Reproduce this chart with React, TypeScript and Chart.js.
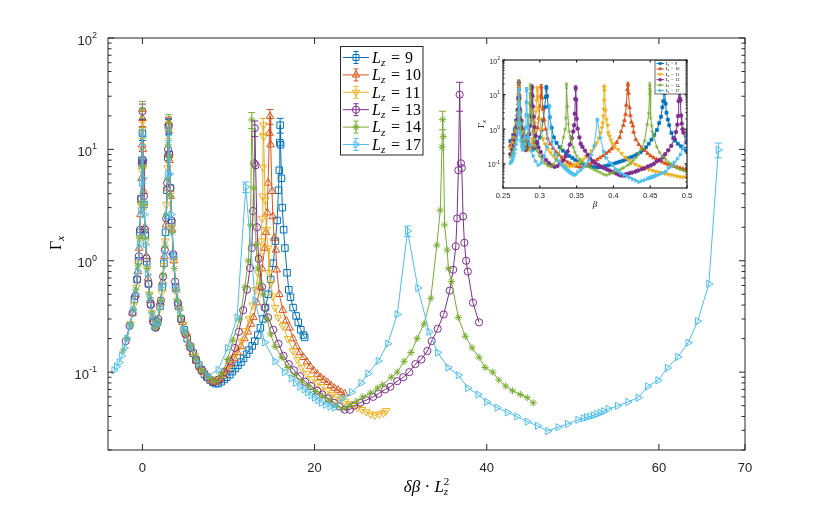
import { useEffect, useRef } from 'react';
import Chart from 'chart.js/auto';
import { drawPoint } from 'chart.js/helpers';

type Pt = [number, number, number?];

// ---- data ----
const L_VALUES = [9, 10, 11, 13, 14, 17];
const COLORS = ['#0072BD', '#D95319', '#EDB120', '#7E2F8E', '#77AC30', '#4DBEEE'];
const POINT_STYLES = ['rect', 'triangle', 'triangle', 'circle', 'star', 'triangle'];
const POINT_ROTATIONS = [0, 0, 180, 0, 0, 90];
const MAIN_RADII = [4.6, 4.4, 4.4, 3.6, 3.6, 4.2];
const INSET_RADII = [2.2, 2.3, 2.3, 1.9, 2.0, 2.3];
const BETA_C = 0.2715; // beta = BETA_C + x / L^2 (inset axis)

const X_TICKS = [0, 20, 40, 60, 70];
const Y_TICKS = [100, 10, 1, 0.1];
const Y_TICK_EXP = ['2', '1', '0', '-1'];
const INSET_X_TICKS = [0.25, 0.3, 0.35, 0.4, 0.45, 0.5];
const INSET_X_LABELS = ['0.25', '0.3', '0.35', '0.4', '0.45', '0.5'];

// [x = δβ·Lz², Γx, error]
const L9: Pt[] = [
  [-0.93, 0.45], [-0.62, 0.68], [-0.45, 1.0], [-0.3, 1.8], [-0.15, 3.6], [-0.06, 8], [0, 14, 2],
  [0.07, 7.5], [0.18, 3.2], [0.32, 1.7], [0.5, 0.98], [0.7, 0.62], [0.95, 0.41], [1.25, 0.29],
  [1.5, 0.255], [1.75, 0.28], [2.05, 0.39], [2.3, 0.58], [2.5, 0.95], [2.68, 1.8], [2.85, 4.3],
  [2.95, 8.5], [3.03, 16, 2.5], [3.12, 9], [3.25, 4.5], [3.4, 2.2], [3.6, 1.1], [3.85, 0.58],
  [4.15, 0.4], [4.5, 0.3], [4.85, 0.24], [5.2, 0.2], [5.55, 0.17], [5.9, 0.148], [6.2, 0.13],
  [6.55, 0.116], [6.85, 0.105], [7.2, 0.096], [7.5, 0.09], [7.85, 0.085], [8.2, 0.081],
  [8.5, 0.079], [8.8, 0.079], [9.15, 0.082], [9.5, 0.086], [9.8, 0.09], [10.15, 0.095],
  [10.45, 0.101], [10.8, 0.108], [11.1, 0.115], [11.45, 0.123], [11.75, 0.133], [12.1, 0.145],
  [12.4, 0.158], [12.75, 0.172], [13.05, 0.19], [13.4, 0.215], [13.7, 0.25], [14.0, 0.3],
  [14.3, 0.38], [14.6, 0.5], [14.9, 0.68], [15.2, 0.95], [15.45, 1.5], [15.65, 2.3], [15.8, 4.3],
  [15.9, 6.5], [15.96, 11.5], [16.0, 16.5, 2.5], [16.05, 11], [16.15, 5.5], [16.25, 3.0],
  [16.4, 1.9], [16.55, 1.3], [16.8, 0.78], [17.0, 0.55], [17.2, 0.47], [17.5, 0.38],
  [17.85, 0.32], [18.1, 0.28], [18.4, 0.24], [18.7, 0.215], [18.85, 0.205],
];

const L10: Pt[] = [
  [-1.15, 0.34], [-0.8, 0.5], [-0.55, 0.8], [-0.38, 1.3], [-0.22, 2.6], [-0.1, 5.5], [-0.03, 11],
  [0, 19, 3], [0.05, 10], [0.14, 4.2], [0.28, 2], [0.45, 1.1], [0.65, 0.7], [0.9, 0.44],
  [1.2, 0.3], [1.5, 0.255], [1.8, 0.29], [2.1, 0.42], [2.35, 0.65], [2.55, 1.1], [2.72, 2.1],
  [2.86, 4.5], [2.96, 9], [3.04, 17, 2.5], [3.14, 8], [3.28, 3.8], [3.45, 1.9], [3.65, 1.0],
  [3.9, 0.55], [4.25, 0.38], [4.65, 0.28], [5.05, 0.22], [5.45, 0.18], [5.85, 0.15],
  [6.25, 0.126], [6.65, 0.11], [7.05, 0.1], [7.45, 0.092], [7.85, 0.085], [8.25, 0.081],
  [8.65, 0.082], [9.05, 0.087], [9.45, 0.095], [9.85, 0.105], [10.25, 0.118], [10.65, 0.133],
  [11.05, 0.15], [11.45, 0.17], [11.85, 0.2], [12.25, 0.23], [12.6, 0.27], [12.9, 0.31],
  [13.3, 0.42], [13.7, 0.58], [13.9, 0.85], [14.2, 1.3], [14.35, 1.8], [14.5, 2.7], [14.6, 5],
  [14.75, 14], [14.82, 19.8, 3], [14.9, 11], [15.05, 4.2], [15.15, 2.5], [15.3, 1.6],
  [15.5, 1.25], [15.6, 0.83], [15.9, 0.5], [16.3, 0.36], [16.7, 0.29], [17.1, 0.25],
  [17.5, 0.2], [17.9, 0.17], [18.3, 0.15], [18.7, 0.136], [19.1, 0.124], [19.5, 0.112],
  [19.9, 0.103], [20.3, 0.096], [20.7, 0.09], [21.1, 0.085], [21.5, 0.081], [21.9, 0.076],
  [22.3, 0.072], [22.7, 0.069], [23.1, 0.066], [23.5, 0.064],
];

const L11: Pt[] = [
  [-1.39, 0.27], [-1.0, 0.4], [-0.7, 0.58], [-0.48, 0.95], [-0.32, 1.6], [-0.18, 3.2],
  [-0.08, 6.5], [0, 15, 2.5], [0.08, 7], [0.2, 3], [0.36, 1.5], [0.55, 0.85], [0.8, 0.5],
  [1.1, 0.34], [1.4, 0.26], [1.7, 0.27], [2.0, 0.37], [2.25, 0.52], [2.48, 0.9], [2.65, 1.5],
  [2.8, 3.2], [2.92, 6.8], [3.02, 15, 2.5], [3.12, 8.5], [3.26, 4], [3.44, 2], [3.66, 1.0],
  [3.95, 0.53], [4.3, 0.37], [4.75, 0.27], [5.2, 0.21], [5.65, 0.17], [6.1, 0.14],
  [6.55, 0.118], [7.0, 0.103], [7.45, 0.093], [7.9, 0.086], [8.35, 0.084], [8.8, 0.087],
  [9.25, 0.094], [9.7, 0.104], [10.15, 0.118], [10.6, 0.135], [11.05, 0.16], [11.5, 0.19],
  [11.95, 0.235], [12.4, 0.3], [12.8, 0.4], [13.15, 0.55], [13.45, 0.78], [13.65, 1.1],
  [13.8, 1.5], [13.9, 2.4], [13.97, 3.8], [14.0, 6.9], [14.04, 16.5, 2.5], [14.08, 13],
  [14.25, 3.5], [14.4, 1.9], [14.6, 1.3], [14.7, 0.78], [14.9, 0.63], [15.15, 0.48],
  [15.4, 0.38], [15.75, 0.31], [16.3, 0.26], [16.9, 0.2], [17.5, 0.155], [18.0, 0.13],
  [18.5, 0.11], [19.1, 0.097], [19.7, 0.087], [20.3, 0.08], [20.8, 0.074], [21.4, 0.068],
  [22.0, 0.063], [22.5, 0.06], [23.0, 0.057], [23.5, 0.055], [24.0, 0.052], [24.5, 0.05],
  [25.0, 0.048], [25.5, 0.046], [26.0, 0.044], [26.5, 0.042], [27.0, 0.041], [27.5, 0.042],
  [28.0, 0.043], [28.3, 0.045],
];

const L13: Pt[] = [
  [-1.94, 0.19], [-1.5, 0.26], [-1.15, 0.34], [-0.85, 0.48], [-0.6, 0.68], [-0.42, 1.1],
  [-0.28, 1.9], [-0.16, 3.6], [-0.07, 7.5], [0, 22, 3.5], [0.07, 8], [0.17, 3.8], [0.3, 1.9],
  [0.48, 1.05], [0.7, 0.62], [0.98, 0.4], [1.3, 0.28], [1.55, 0.25], [1.85, 0.3], [2.15, 0.44],
  [2.4, 0.72], [2.6, 1.25], [2.76, 2.4], [2.88, 5], [2.97, 10], [3.04, 16.5, 2.5], [3.12, 9],
  [3.24, 4.5], [3.38, 2.3], [3.56, 1.15], [3.8, 0.65], [4.1, 0.42], [4.5, 0.3], [5.0, 0.22],
  [5.6, 0.165], [6.25, 0.128], [6.9, 0.104], [7.55, 0.09], [8.2, 0.082], [8.85, 0.086],
  [9.5, 0.1], [10.15, 0.125], [10.75, 0.165], [11.2, 0.23], [11.7, 0.36], [12.15, 0.55],
  [12.5, 0.86], [12.7, 1.3], [12.85, 2.8], [12.98, 7.5], [13.05, 15.5, 2.5], [13.15, 7.2],
  [13.3, 2.0], [13.5, 1.04], [13.9, 0.58], [14.2, 0.38], [14.6, 0.31], [15.2, 0.24],
  [15.8, 0.18], [16.4, 0.14], [17.0, 0.118], [17.6, 0.104], [18.3, 0.092], [18.9, 0.082],
  [19.6, 0.075], [20.3, 0.068], [20.9, 0.063], [21.6, 0.058], [22.3, 0.053], [22.9, 0.049],
  [23.5, 0.046], [24.1, 0.046], [24.6, 0.05], [25.3, 0.053], [26.0, 0.056], [26.8, 0.06],
  [27.4, 0.064], [28.2, 0.07], [28.8, 0.074], [29.6, 0.083], [30.3, 0.09], [31.0, 0.1],
  [31.7, 0.118], [32.4, 0.13], [33.1, 0.155], [33.6, 0.19], [34.3, 0.245], [35.0, 0.33],
  [35.7, 0.54], [36.1, 0.83], [36.4, 1.35], [36.55, 2.4], [36.7, 6.5], [36.85, 31, 9],
  [37.0, 7.5], [37.1, 6.8], [37.25, 2.5], [37.4, 1.45], [37.6, 1.0], [37.8, 0.8], [38.4, 0.42],
  [39.1, 0.28],
];

const L14: Pt[] = [
  [-2.25, 0.155], [-1.8, 0.2], [-1.4, 0.27], [-1.05, 0.37], [-0.75, 0.55], [-0.5, 0.9],
  [-0.33, 1.6], [-0.18, 3.3], [-0.08, 7], [0, 23, 4], [0.08, 7], [0.2, 3.2], [0.35, 1.6],
  [0.55, 0.85], [0.8, 0.5], [1.1, 0.34], [1.45, 0.25], [1.8, 0.29], [2.15, 0.44], [2.42, 0.75],
  [2.62, 1.35], [2.78, 2.6], [2.9, 5.5], [2.98, 11], [3.05, 17.5, 3], [3.14, 8.5], [3.28, 3.8],
  [3.46, 1.8], [3.7, 0.85], [4.0, 0.45], [4.4, 0.32], [4.9, 0.23], [5.5, 0.17], [6.2, 0.13],
  [6.95, 0.103], [7.7, 0.088], [8.45, 0.083], [9.2, 0.095], [9.9, 0.13], [10.5, 0.193],
  [11.3, 0.3], [11.9, 0.58], [12.3, 1.0], [12.55, 2.1], [12.7, 18.4, 3], [12.95, 4.5],
  [13.2, 1.4], [13.4, 0.86], [13.7, 0.63], [14.0, 0.5], [14.5, 0.3], [14.9, 0.22], [15.4, 0.17],
  [16.2, 0.136], [16.9, 0.11], [17.7, 0.094], [18.5, 0.083], [19.3, 0.075], [20.1, 0.067],
  [20.9, 0.061], [21.7, 0.056], [22.5, 0.05], [23.3, 0.047], [24.1, 0.05], [24.9, 0.055],
  [25.6, 0.06], [26.5, 0.065], [27.3, 0.072], [27.9, 0.077], [28.9, 0.09], [29.6, 0.1],
  [30.4, 0.125], [31.2, 0.15], [31.9, 0.2], [32.7, 0.27], [33.5, 0.46], [34.2, 1.38],
  [34.6, 2.85], [34.8, 10.5], [34.88, 18.5, 3.5], [34.95, 13], [35.1, 2.1], [35.4, 1.25],
  [35.55, 0.85], [35.9, 0.65], [36.7, 0.31], [37.5, 0.21], [38.3, 0.165], [39.1, 0.136],
  [39.8, 0.11], [40.7, 0.1], [41.4, 0.085], [42.2, 0.075], [43.0, 0.068], [43.9, 0.063],
  [44.7, 0.059], [45.4, 0.053],
];

const L17: Pt[] = [
  [-3.3, 0.104], [-3.0, 0.112], [-2.7, 0.122], [-2.4, 0.14], [-2.1, 0.165], [-1.8, 0.2],
  [-1.45, 0.26], [-1.1, 0.36], [-0.8, 0.5], [-0.55, 0.8], [-0.35, 1.4], [-0.2, 2.8], [-0.1, 5],
  [0, 13, 2], [0.1, 5.5], [0.22, 2.6], [0.38, 1.4], [0.6, 0.75], [0.85, 0.46], [1.15, 0.32],
  [1.45, 0.26], [1.75, 0.28], [2.05, 0.38], [2.35, 0.6], [2.6, 1.15], [2.8, 2.5], [2.95, 6],
  [3.05, 14, 2], [3.15, 6], [3.35, 2.6], [3.6, 1.1], [3.9, 0.55], [4.3, 0.36], [4.9, 0.24],
  [5.6, 0.17], [6.5, 0.12], [7.6, 0.092], [8.8, 0.105], [9.9, 0.165], [11.0, 0.31],
  [12.0, 4.6, 0.5], [13.1, 0.44], [14.2, 0.185], [15.4, 0.125], [16.5, 0.1], [17.3, 0.088],
  [17.8, 0.08], [18.3, 0.074], [18.8, 0.07], [19.2, 0.066], [19.6, 0.062], [20.0, 0.059],
  [20.4, 0.056], [20.8, 0.053], [21.3, 0.051], [21.8, 0.049], [22.3, 0.048], [23.2, 0.058],
  [24.3, 0.066], [25.4, 0.08], [26.2, 0.097], [27.4, 0.126], [28.5, 0.18], [29.6, 0.33],
  [30.8, 1.85, 0.2], [32.0, 0.57], [33.3, 0.23], [34.3, 0.15], [35.5, 0.11], [36.7, 0.094],
  [37.8, 0.072], [39.0, 0.063], [40.0, 0.054], [41.2, 0.048], [42.4, 0.0435], [43.5, 0.04],
  [44.7, 0.036], [45.9, 0.033], [47.1, 0.0296], [48.3, 0.032], [49.4, 0.0343], [50.6, 0.0373],
  [51.2, 0.0385], [51.6, 0.0393], [52.0, 0.04], [52.4, 0.041], [52.8, 0.042], [53.2, 0.0432],
  [53.6, 0.0445], [54.1, 0.0467], [55.2, 0.0498], [56.4, 0.054], [57.6, 0.059], [58.7, 0.0745],
  [59.9, 0.0845], [61.0, 0.109], [62.2, 0.137], [63.4, 0.184], [64.5, 0.286], [65.8, 0.62],
  [66.9, 9.9, 1.5],
];

const SERIES = [L9, L10, L11, L13, L14, L17];

const SANS = '"Liberation Sans", Arial, sans-serif';
const SERIF = '"Liberation Serif", "Times New Roman", serif';
const AXIS_COLOR = '#262626';

type Run = { t: string; f: string; dy?: number; adv?: boolean };

function drawRuns(ctx: CanvasRenderingContext2D, runs: Run[], x: number, y: number, align: 'left' | 'center' | 'right') {
  let w = 0;
  runs.forEach(r => { ctx.font = r.f; if (r.adv !== false) w += ctx.measureText(r.t).width; });
  let cx = align === 'left' ? x : align === 'center' ? x - w / 2 : x - w;
  ctx.textAlign = 'left';
  ctx.textBaseline = 'alphabetic';
  runs.forEach(r => {
    ctx.font = r.f;
    ctx.fillText(r.t, cx, y + (r.dy || 0));
    if (r.adv !== false) cx += ctx.measureText(r.t).width;
  });
}

type AxesOpts = {
  mapX: (x: number, i: number) => number;
  xTicks: number[];
  xLabels: string[];
  tick: number;
  minor: number;
  lineWidth: number;
  xLabelFont: string;
  xLabelY: number;
  bigSize: number;
  supSize: number;
  yLabelRight: number;
  cap: number;
  fillWhite: boolean;
  drawTitles: (ctx: CanvasRenderingContext2D) => void;
  legend: {
    left: number; top: number; right: number; bottom: number; rowY: number; rowStep: number;
    lineFrom: number; lineTo: number; marker: number; radii: number[]; filled: boolean;
    errHalf: number; capHalf: number; textX: number; eqX: number; numX: number;
    size: number; subSize: number; borderWidth: number;
  };
};

function axesPlugin(o: AxesOpts) {
  return {
    id: 'matlabAxes',
    beforeDatasetsDraw(chart: any) {
      if (!o.fillWhite) return;
      const { ctx, chartArea: a } = chart;
      ctx.save();
      ctx.fillStyle = '#ffffff';
      ctx.fillRect(a.left, a.top, a.right - a.left, a.bottom - a.top);
      ctx.restore();
    },
    afterDatasetsDraw(chart: any) {
      const { ctx, chartArea: a } = chart;
      const xs = chart.scales.x, ys = chart.scales.y;
      ctx.save();
      ctx.beginPath();
      ctx.rect(a.left, a.top, a.right - a.left, a.bottom - a.top);
      ctx.clip();
      SERIES.forEach((pts, i) => {
        ctx.strokeStyle = COLORS[i];
        ctx.lineWidth = 1;
        pts.forEach(p => {
          if (p[2] === undefined) return;
          const px = xs.getPixelForValue(o.mapX(p[0], i));
          const y1 = ys.getPixelForValue(p[1] + (p[2] as number));
          const y2 = ys.getPixelForValue(Math.max(p[1] - (p[2] as number), 1e-4));
          ctx.beginPath();
          ctx.moveTo(px, y1); ctx.lineTo(px, y2);
          ctx.moveTo(px - o.cap, y1); ctx.lineTo(px + o.cap, y1);
          ctx.moveTo(px - o.cap, y2); ctx.lineTo(px + o.cap, y2);
          ctx.stroke();
        });
      });
      ctx.restore();
    },
    afterDraw(chart: any) {
      const { ctx, chartArea: a } = chart;
      const xs = chart.scales.x, ys = chart.scales.y;
      ctx.save();
      ctx.strokeStyle = AXIS_COLOR;
      ctx.lineWidth = o.lineWidth;
      ctx.strokeRect(a.left, a.top, a.right - a.left, a.bottom - a.top);
      ctx.beginPath();
      o.xTicks.forEach(v => {
        const px = xs.getPixelForValue(v);
        ctx.moveTo(px, a.bottom); ctx.lineTo(px, a.bottom - o.tick);
        ctx.moveTo(px, a.top); ctx.lineTo(px, a.top + o.tick);
      });
      for (let e = -2; e <= 2; e++) {
        for (let m = 1; m <= 9; m++) {
          const v = m * Math.pow(10, e);
          if (v < ys.min * 0.999 || v > ys.max * 1.001) continue;
          const len = m === 1 ? o.tick : o.minor;
          const py = ys.getPixelForValue(v);
          ctx.moveTo(a.left, py); ctx.lineTo(a.left + len, py);
          ctx.moveTo(a.right, py); ctx.lineTo(a.right - len, py);
        }
      }
      ctx.stroke();

      // tick labels
      ctx.fillStyle = AXIS_COLOR;
      o.xTicks.forEach((v, k) => {
        drawRuns(ctx, [{ t: o.xLabels[k], f: o.xLabelFont }], xs.getPixelForValue(v), o.xLabelY, 'center');
      });
      Y_TICKS.forEach((v, k) => {
        const py = ys.getPixelForValue(v);
        drawRuns(ctx, [
          { t: '10', f: `${o.bigSize}px ${SANS}`, dy: o.bigSize * 0.5 },
          { t: Y_TICK_EXP[k], f: `${o.supSize}px ${SANS}`, dy: -o.bigSize * 0.02 },
        ], o.yLabelRight, py, 'right');
      });

      ctx.fillStyle = '#000000';
      o.drawTitles(ctx);

      // legend
      const lg = o.legend;
      ctx.fillStyle = '#ffffff';
      ctx.fillRect(lg.left, lg.top, lg.right - lg.left, lg.bottom - lg.top);
      ctx.strokeStyle = AXIS_COLOR;
      ctx.lineWidth = lg.borderWidth;
      ctx.strokeRect(lg.left, lg.top, lg.right - lg.left, lg.bottom - lg.top);
      L_VALUES.forEach((L, i) => {
        const y = lg.rowY + i * lg.rowStep;
        ctx.strokeStyle = COLORS[i];
        ctx.lineWidth = 1;
        ctx.beginPath();
        ctx.moveTo(lg.lineFrom, y); ctx.lineTo(lg.lineTo, y);
        if (lg.errHalf > 0) {
          ctx.moveTo(lg.marker, y - lg.errHalf); ctx.lineTo(lg.marker, y + lg.errHalf);
          ctx.moveTo(lg.marker - lg.capHalf, y - lg.errHalf); ctx.lineTo(lg.marker + lg.capHalf, y - lg.errHalf);
          ctx.moveTo(lg.marker - lg.capHalf, y + lg.errHalf); ctx.lineTo(lg.marker + lg.capHalf, y + lg.errHalf);
        }
        ctx.stroke();
        ctx.fillStyle = lg.filled ? COLORS[i] : 'rgba(0,0,0,0)';
        drawPoint(ctx, { pointStyle: POINT_STYLES[i] as any, rotation: POINT_ROTATIONS[i], radius: lg.radii[i], borderWidth: lg.filled ? 0.6 : 1 } as any, lg.marker, y);
        ctx.fillStyle = '#000000';
        const base = y + lg.size * 0.33;
        drawRuns(ctx, [
          { t: 'L', f: `italic ${lg.size}px ${SERIF}` },
          { t: 'z', f: `italic ${lg.subSize}px ${SERIF}`, dy: lg.size * 0.2 },
        ], lg.textX, base, 'left');
        drawRuns(ctx, [{ t: '=', f: `${lg.size}px ${SERIF}` }], lg.eqX, base, 'left');
        drawRuns(ctx, [{ t: String(L), f: `${lg.size}px ${SERIF}` }], lg.numX, base, 'left');
      });
      ctx.restore();
    },
  };
}

function makeDatasets(mapX: (x: number, i: number) => number, radii: number[], filled: boolean) {
  return SERIES.map((pts, i) => ({
    label: `Lz = ${L_VALUES[i]}`,
    data: pts.map(p => ({ x: mapX(p[0], i), y: p[1] })),
    showLine: true,
    borderColor: COLORS[i],
    borderWidth: 1,
    backgroundColor: filled ? COLORS[i] : 'rgba(0,0,0,0)',
    pointStyle: POINT_STYLES[i],
    pointRotation: POINT_ROTATIONS[i],
    pointRadius: radii[i],
    pointHoverRadius: radii[i],
    pointBorderWidth: filled ? 0.6 : 1,
    pointBorderColor: COLORS[i],
    pointBackgroundColor: filled ? COLORS[i] : 'rgba(0,0,0,0)',
    tension: 0,
    order: SERIES.length - i,
  }));
}

export default function App() {
  const mainRef = useRef<HTMLCanvasElement>(null);
  const insetRef = useRef<HTMLCanvasElement>(null);

  useEffect(() => {
    const mainMap = (x: number) => x;
    const insetMap = (x: number, i: number) => BETA_C + x / (L_VALUES[i] * L_VALUES[i]);

    const mainChart = new Chart(mainRef.current as any, {
      type: 'scatter',
      data: { datasets: makeDatasets(mainMap, MAIN_RADII, false) as any },
      options: {
        responsive: false,
        animation: false,
        events: [],
        devicePixelRatio: 1,
        layout: { padding: { left: 108, right: 85, top: 38, bottom: 55 } },
        scales: {
          x: { type: 'linear', min: -4, max: 70, display: false },
          y: { type: 'logarithmic', min: 0.02, max: 100, display: false },
        },
        plugins: { legend: { display: false }, tooltip: { enabled: false } },
      },
      plugins: [axesPlugin({
        mapX: mainMap,
        xTicks: X_TICKS,
        xLabels: X_TICKS.map(String),
        tick: 6,
        minor: 3.5,
        lineWidth: 1,
        xLabelFont: `13px ${SANS}`,
        xLabelY: 472,
        bigSize: 13,
        supSize: 9,
        yLabelRight: 97,
        cap: 3.5,
        fillWhite: false,
        drawTitles: (ctx) => {
          drawRuns(ctx, [
            { t: 'δβ', f: `italic 17px ${SERIF}` },
            { t: ' · ', f: `17px ${SERIF}` },
            { t: 'L', f: `italic 17px ${SERIF}` },
            { t: '2', f: `11px ${SERIF}`, dy: -7, adv: false },
            { t: 'z', f: `italic 11px ${SERIF}`, dy: 3 },
          ], 426, 492, 'center');
          ctx.save();
          ctx.translate(61, 243);
          ctx.rotate(-Math.PI / 2);
          drawRuns(ctx, [
            { t: 'Γ', f: `16px ${SERIF}` },
            { t: 'x', f: `italic 11px ${SERIF}`, dy: 3 },
          ], 0, 0, 'center');
          ctx.restore();
        },
        legend: {
          left: 340.5, top: 46.5, right: 423, bottom: 155, rowY: 57.5, rowStep: 17.4,
          lineFrom: 343, lineTo: 369, marker: 356, radii: [4.2, 4.2, 4.2, 3.6, 3.6, 4.0], filled: false,
          errHalf: 6, capHalf: 2.5, textX: 372, eqX: 391, numX: 405, size: 16, subSize: 11, borderWidth: 1,
        },
      })],
    } as any);

    const insetChart = new Chart(insetRef.current as any, {
      type: 'scatter',
      data: { datasets: makeDatasets(insetMap, INSET_RADII, true) as any },
      options: {
        responsive: false,
        animation: false,
        events: [],
        devicePixelRatio: 1,
        layout: { padding: { left: 503, right: 143, top: 60, bottom: 317 } },
        scales: {
          x: { type: 'linear', min: 0.25, max: 0.5, display: false },
          y: { type: 'logarithmic', min: 0.02, max: 100, display: false },
        },
        plugins: { legend: { display: false }, tooltip: { enabled: false } },
      },
      plugins: [axesPlugin({
        mapX: insetMap,
        xTicks: INSET_X_TICKS,
        xLabels: INSET_X_LABELS,
        tick: 2.5,
        minor: 1.5,
        lineWidth: 1.2,
        xLabelFont: `7.5px ${SANS}`,
        xLabelY: 198,
        bigSize: 7,
        supSize: 5,
        yLabelRight: 500,
        cap: 1.5,
        fillWhite: true,
        drawTitles: (ctx) => {
          drawRuns(ctx, [{ t: 'β', f: `italic 9px ${SERIF}` }], 595, 207, 'center');
          ctx.save();
          ctx.translate(484, 124);
          ctx.rotate(-Math.PI / 2);
          drawRuns(ctx, [
            { t: 'Γ', f: `9px ${SERIF}` },
            { t: 'x', f: `italic 6px ${SERIF}`, dy: 1.5 },
          ], 0, 0, 'center');
          ctx.restore();
        },
        legend: {
          left: 655, top: 60.5, right: 686, bottom: 94, rowY: 63.5, rowStep: 5.4,
          lineFrom: 656.5, lineTo: 664, marker: 660.2, radii: [1.5, 1.6, 1.6, 1.3, 1.4, 1.6], filled: true,
          errHalf: 0, capHalf: 0, textX: 665.5, eqX: 671, numX: 675, size: 4.5, subSize: 3.2, borderWidth: 0.7,
        },
      })],
    } as any);

    return () => {
      mainChart.destroy();
      insetChart.destroy();
    };
  }, []);

  return (
    <div style={{ position: 'fixed', left: 0, top: 0, width: 830, height: 505, background: '#ffffff' }}>
      <canvas ref={mainRef} width={830} height={505} style={{ position: 'absolute', left: 0, top: 0 }} />
      <canvas ref={insetRef} width={830} height={505} style={{ position: 'absolute', left: 0, top: 0, pointerEvents: 'none' }} />
    </div>
  );
}
